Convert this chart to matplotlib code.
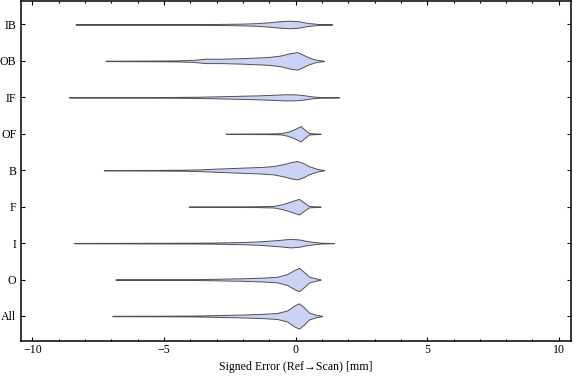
import numpy as np
import matplotlib.pyplot as plt
from matplotlib.ticker import MultipleLocator

plt.rcParams['font.family'] = ['Liberation Serif', 'DejaVu Serif']
plt.rcParams['font.size'] = 8.6

# categories from bottom to top
cats = ['All', 'O', 'I', 'F', 'B', 'OF', 'IF', 'OB', 'IB']

# density profiles: error (mm) and half-width
x_all = [-6.96, -5, -4, -3.48, -2.6, -1.96, -1.2, -0.7, -0.32, -0.05, 0.13, 0.3, 0.51, 0.76, 1.01]
w_all = [0.2, 0.3, 0.4, 0.6, 1.1, 1.5, 2.2, 3.0, 5.5, 10.5, 12.7, 9.0, 3.5, 1.3, 0.1]

x_o = [-6.84, -5, -4, -3.35, -2.6, -1.96, -1.2, -0.7, -0.32, -0.05, 0.13, 0.3, 0.51, 0.76, 0.95]
w_o = [0.2, 0.3, 0.4, 0.6, 1.0, 1.3, 2.0, 2.8, 5.5, 9.5, 11.7, 8.0, 3.0, 1.2, 0.1]

x_i = [-8.42, -6, -4, -3.2, -2.6, -1.9, -1.33, -0.7, -0.19, 0.15, 0.44, 0.95, 1.46]
w_i = [0.2, 0.3, 0.4, 0.5, 0.8, 1.2, 1.8, 3.0, 4.3, 3.6, 2.0, 0.4, 0.1]

x_f = [-4.05, -2.5, -1.5, -0.83, -0.5, -0.2, 0.13, 0.3, 0.51, 0.95]
w_f = [0.2, 0.3, 0.4, 0.8, 2.5, 5.0, 7.8, 4.5, 0.7, 0.1]

x_b = [-7.28, -5.5, -4.3, -3.6, -3.0, -2.0, -1.3, -0.83, -0.45, -0.15, 0.06, 0.3, 0.51, 0.82, 1.08]
w_b = [0.2, 0.3, 0.5, 0.9, 1.6, 2.6, 3.3, 4.2, 6.2, 8.3, 9.2, 7.0, 4.0, 1.3, 0.1]

x_of = [-2.66, -1.5, -0.9, -0.57, -0.3, -0.05, 0.19, 0.35, 0.51, 0.95]
w_of = [0.2, 0.3, 0.4, 0.6, 2.0, 4.5, 7.7, 4.0, 0.7, 0.1]

x_if = [-8.61, -6, -4.5, -3.8, -3.0, -2.2, -1.4, -0.8, -0.4, 0.0, 0.3, 0.6, 0.9, 1.65]
w_if = [0.2, 0.3, 0.4, 0.6, 1.0, 1.5, 2.0, 2.6, 3.1, 3.0, 2.2, 1.0, 0.4, 0.1]

x_ob = [-7.22, -5.5, -4.5, -3.9, -3.4, -2.8, -2.0, -1.1, -0.6, -0.25, 0.06, 0.3, 0.5, 0.76, 1.08]
w_ob = [0.2, 0.35, 0.5, 1.0, 2.2, 2.2, 2.8, 3.8, 5.2, 7.5, 8.8, 6.0, 3.5, 1.3, 0.1]

x_ib = [-8.36, -6, -4, -3, -2.1, -1.5, -1.0, -0.6, -0.25, 0.1, 0.44, 0.88, 1.39]
w_ib = [0.2, 0.3, 0.35, 0.5, 0.8, 1.3, 2.2, 3.2, 3.8, 3.3, 1.6, 0.4, 0.1]

profiles = [(x_all, w_all), (x_o, w_o), (x_i, w_i), (x_f, w_f), (x_b, w_b),
            (x_of, w_of), (x_if, w_if), (x_ob, w_ob), (x_ib, w_ib)]

scale = 1 / 36.46  # half-width units -> y units

fig = plt.figure(figsize=(5.76, 3.81), dpi=100)
ax = fig.add_axes([0.0356, 0.105, 0.956, 0.892])

for k, (xs, ws) in enumerate(profiles):
    y0 = k + 1
    xs = np.array(xs)
    ws = np.array(ws) * scale
    ax.fill_between(xs, y0 - ws, y0 + ws, facecolor='#cbd2f5',
                    edgecolor='#505050', linewidth=0.7)

ax.set_xlim(-10.45, 10.47)
ax.set_ylim(0.314, 9.64)
ax.set_yticks(range(1, len(cats) + 1))
ax.set_yticklabels(cats)
ax.xaxis.set_major_locator(MultipleLocator(5))
ax.xaxis.set_minor_locator(MultipleLocator(1))
ax.tick_params(which='both', direction='in', top=True, right=True, width=0.8)
ax.tick_params(which='major', length=3.2, pad=2.5)
ax.tick_params(which='minor', length=1.7)
ax.tick_params(axis='y', which='major', length=3.2, pad=3)
for s in ax.spines.values():
    s.set_linewidth(1.1)

ax.set_xlabel('Signed Error (Ref\u2192Scan) [mm]', labelpad=3.5)

fig.savefig('out.png', dpi=100)
